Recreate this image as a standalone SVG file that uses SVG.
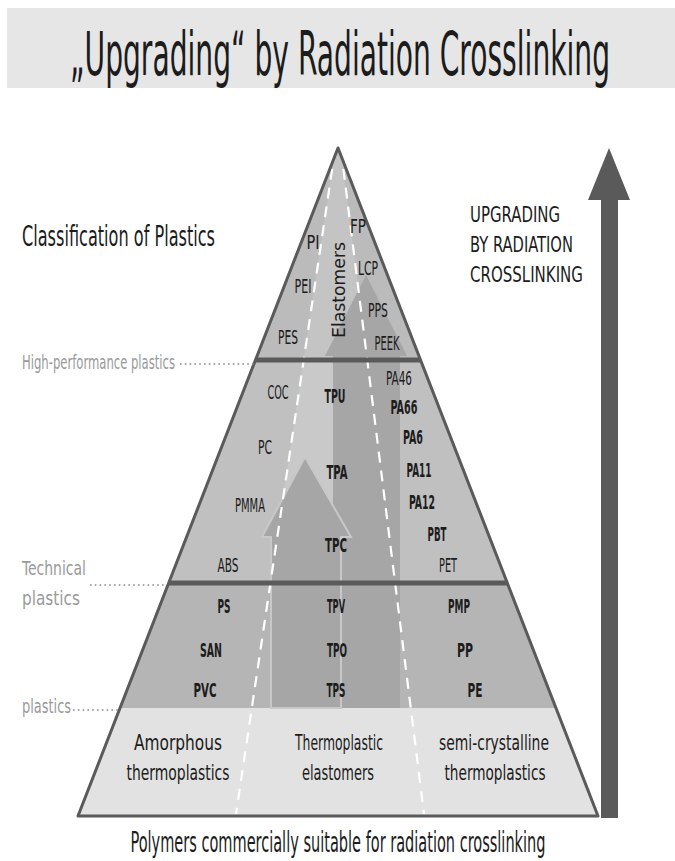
<svg xmlns="http://www.w3.org/2000/svg" width="675" height="861" viewBox="0 0 675 861">
<defs>
<style>
text{font-family:"DejaVu Sans Condensed","Liberation Sans Narrow","Liberation Sans",sans-serif;fill:#1c1c1c}
.lbl{font-size:19px;text-anchor:middle}
.b{font-weight:bold}
.side{font-size:20px;fill:#9a9a9a}
.base{font-size:22px;text-anchor:middle}
.up{font-size:21px}
.dot{stroke:#8a8a8a;stroke-width:1.6;stroke-dasharray:1.6,3.2;fill:none}
.dash{stroke:#ffffff;stroke-width:2.2;stroke-dasharray:11,8;fill:none}
.arr{fill:#a6a6a6}
</style>
<clipPath id="pyr"><polygon points="338,148 598,816 78,816"/></clipPath>
<clipPath id="upper"><rect x="0" y="0" width="675" height="583"/></clipPath>
</defs>
<rect width="675" height="861" fill="#ffffff"/>
<g id="title">
<rect x="7" y="8" width="668" height="80" fill="#e6e6e6"/>
<text x="340" y="75" font-size="61" text-anchor="middle" textLength="540" lengthAdjust="spacingAndGlyphs">„Upgrading“ by Radiation Crosslinking</text>
</g>
<g id="pyramid">
<g clip-path="url(#pyr)">
<rect x="70" y="140" width="540" height="220" fill="#bbbbbb"/>
<rect x="70" y="360" width="540" height="223" fill="#c0c0c0"/>
<rect x="70" y="583" width="540" height="125" fill="#b5b5b5"/>
<rect x="70" y="708" width="540" height="110" fill="#e2e2e2"/>
<polygon points="335,150 341,150 406,671 257,671" fill="#ffffff" fill-opacity="0.14" clip-path="url(#upper)"/>
</g>
</g>
<g id="arrows-in-pyramid">
<polygon class="arr" points="366,275 407,356 400,356 400,708 333,708 333,356 325,356"/>
<polygon class="arr" points="305,457 351,537 341,537 341,708 271,708 271,537 262,537" stroke="#c8c8c8" stroke-width="2"/>
</g>
<g id="connectors">
<line class="dash" x1="335" y1="150" x2="236" y2="814"/>
<line class="dash" x1="341" y1="150" x2="424" y2="814"/>
<line x1="255" y1="360" x2="421" y2="360" stroke="#5a5a5a" stroke-width="5"/>
<line x1="168" y1="583" x2="508" y2="583" stroke="#5a5a5a" stroke-width="5"/>
<polygon points="338,148 598,816 78,816" fill="none" stroke="#5a5a5a" stroke-width="3" stroke-linejoin="round"/>
<line class="dot" x1="180" y1="364" x2="254" y2="364"/>
<line class="dot" x1="90" y1="585" x2="167" y2="585"/>
<line class="dot" x1="73" y1="710" x2="119" y2="710"/>
<polygon id="upgrade-arrow" points="609,148 630,200 618,200 618,818 601,818 601,200 588,200" fill="#5a5a5a"/>
</g>
<g id="top-labels">
<text class="lbl" x="313" y="249" textLength="13" lengthAdjust="spacingAndGlyphs">PI</text>
<text class="lbl" x="358" y="233" textLength="16" lengthAdjust="spacingAndGlyphs">FP</text>
<text class="lbl" x="303" y="293" textLength="17" lengthAdjust="spacingAndGlyphs">PEI</text>
<text class="lbl" x="368" y="275" textLength="20" lengthAdjust="spacingAndGlyphs">LCP</text>
<text class="lbl" x="378" y="317" textLength="20" lengthAdjust="spacingAndGlyphs">PPS</text>
<text class="lbl" x="288" y="344" textLength="20" lengthAdjust="spacingAndGlyphs">PES</text>
<text class="lbl" x="387" y="350" textLength="25" lengthAdjust="spacingAndGlyphs">PEEK</text>
<text transform="translate(345,290) rotate(-90)" font-size="17" text-anchor="middle" textLength="96" lengthAdjust="spacingAndGlyphs">Elastomers</text>
</g>
<g id="middle-labels">
<text class="lbl" x="278" y="399" textLength="21" lengthAdjust="spacingAndGlyphs">COC</text>
<text class="lbl b" x="335" y="403" textLength="21" lengthAdjust="spacingAndGlyphs">TPU</text>
<text class="lbl" x="399" y="385" textLength="26" lengthAdjust="spacingAndGlyphs">PA46</text>
<text class="lbl b" x="404" y="414" textLength="27" lengthAdjust="spacingAndGlyphs">PA66</text>
<text class="lbl" x="265" y="454" textLength="14" lengthAdjust="spacingAndGlyphs">PC</text>
<text class="lbl b" x="413" y="444" textLength="20" lengthAdjust="spacingAndGlyphs">PA6</text>
<text class="lbl b" x="337" y="479" textLength="21" lengthAdjust="spacingAndGlyphs">TPA</text>
<text class="lbl b" x="419" y="477" textLength="25" lengthAdjust="spacingAndGlyphs">PA11</text>
<text class="lbl" x="250" y="512" textLength="30" lengthAdjust="spacingAndGlyphs">PMMA</text>
<text class="lbl b" x="422" y="509" textLength="26" lengthAdjust="spacingAndGlyphs">PA12</text>
<text class="lbl b" x="437" y="541" textLength="19" lengthAdjust="spacingAndGlyphs">PBT</text>
<text class="lbl b" x="336" y="552" textLength="22" lengthAdjust="spacingAndGlyphs">TPC</text>
<text class="lbl" x="228" y="572" textLength="21" lengthAdjust="spacingAndGlyphs">ABS</text>
<text class="lbl" x="448" y="572" textLength="18" lengthAdjust="spacingAndGlyphs">PET</text>
</g>
<g id="lower-labels">
<text class="lbl b" x="224" y="613" textLength="13" lengthAdjust="spacingAndGlyphs">PS</text>
<text class="lbl b" x="336" y="613" textLength="18" lengthAdjust="spacingAndGlyphs">TPV</text>
<text class="lbl b" x="459" y="613" textLength="22" lengthAdjust="spacingAndGlyphs">PMP</text>
<text class="lbl b" x="211" y="657" textLength="22" lengthAdjust="spacingAndGlyphs">SAN</text>
<text class="lbl b" x="337" y="657" textLength="20" lengthAdjust="spacingAndGlyphs">TPO</text>
<text class="lbl b" x="465" y="657" textLength="16" lengthAdjust="spacingAndGlyphs">PP</text>
<text class="lbl b" x="205" y="697" textLength="23" lengthAdjust="spacingAndGlyphs">PVC</text>
<text class="lbl b" x="336" y="697" textLength="19" lengthAdjust="spacingAndGlyphs">TPS</text>
<text class="lbl b" x="475" y="697" textLength="15" lengthAdjust="spacingAndGlyphs">PE</text>
</g>
<g id="base-labels">
<text class="base" x="178" y="750" textLength="88" lengthAdjust="spacingAndGlyphs">Amorphous</text>
<text class="base" x="178" y="780" textLength="103" lengthAdjust="spacingAndGlyphs">thermoplastics</text>
<text class="base" x="339" y="750" textLength="88" lengthAdjust="spacingAndGlyphs">Thermoplastic</text>
<text class="base" x="338" y="780" textLength="72" lengthAdjust="spacingAndGlyphs">elastomers</text>
<text class="base" x="494" y="750" textLength="110" lengthAdjust="spacingAndGlyphs">semi-crystalline</text>
<text class="base" x="495" y="780" textLength="101" lengthAdjust="spacingAndGlyphs">thermoplastics</text>
</g>
<g id="side-labels">
<text x="22" y="246" font-size="28" textLength="193" lengthAdjust="spacingAndGlyphs">Classification of Plastics</text>
<text class="side" x="22" y="369" textLength="153" lengthAdjust="spacingAndGlyphs">High-performance plastics</text>
<text class="side" x="22" y="575" font-size="22" textLength="64" lengthAdjust="spacingAndGlyphs">Technical</text>
<text class="side" x="22" y="605" font-size="22" textLength="58" lengthAdjust="spacingAndGlyphs">plastics</text>
<text class="side" x="22" y="713" textLength="49" lengthAdjust="spacingAndGlyphs">plastics</text>
<text class="up" x="470" y="222" textLength="90" lengthAdjust="spacingAndGlyphs">UPGRADING</text>
<text class="up" x="470" y="252" textLength="103" lengthAdjust="spacingAndGlyphs">BY RADIATION</text>
<text class="up" x="470" y="282" textLength="113" lengthAdjust="spacingAndGlyphs">CROSSLINKING</text>
</g>
<g id="caption">
<text x="338" y="852" font-size="28" text-anchor="middle" textLength="415" lengthAdjust="spacingAndGlyphs">Polymers commercially suitable for radiation crosslinking</text>
</g>
</svg>
